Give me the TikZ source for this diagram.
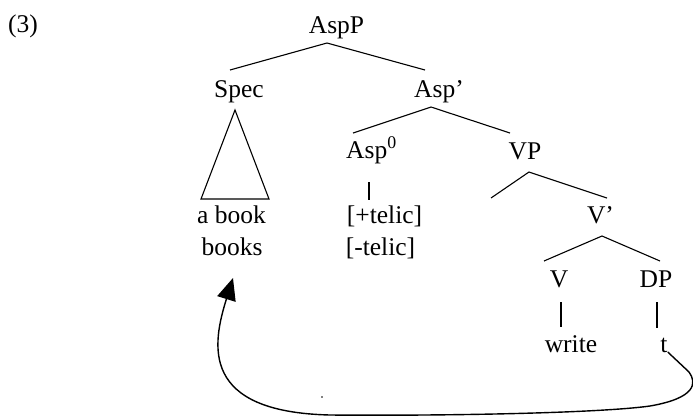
\documentclass[tikz,border=0pt]{standalone}
\usepackage{fontspec}
\setmainfont{Liberation Serif}
\usetikzlibrary{arrows.meta}
\begin{document}
\begin{tikzpicture}[x=1pt,y=-1pt,
  lbl/.style={inner sep=0pt,anchor=base,font=\fontsize{25.5}{30}\selectfont},
  branch/.style={line width=1.1pt},
  move/.style={line width=1.4pt,-{Triangle[length=22pt,width=19pt]}}]
\useasboundingbox (0,0) rectangle (693,416);
% labels
\node[lbl] (ex) at (23,32) {(3)};
\node[lbl] (AspP) at (336.5,33) {AspP};
\node[lbl] (Spec) at (239,97) {Spec};
\node[lbl] (Aspbar) at (439,97) {Asp’};
\node[lbl] (Asp0) at (371.5,158) {Asp\textsuperscript{0}};
\node[lbl] (VP) at (525,159) {VP};
\node[lbl] (Vbar) at (600.5,223) {V’};
\node[lbl] (V) at (559,287) {V};
\node[lbl] (DP) at (656,287) {DP};
\node[lbl] (write) at (571,352) {write};
\node[lbl] (t) at (664,352) {t};
\node[lbl] (abook) at (231.5,223) {a book};
\node[lbl] (books) at (232,255) {books};
\node[lbl] (ptelic) at (384.5,223) {[+telic]};
\node[lbl] (mtelic) at (380.5,255) {[-telic]};
% branch points
\coordinate (a1) at (327,43);
\coordinate (a1l) at (230,70);
\coordinate (a1r) at (425,70);
\coordinate (a2) at (431,107);
\coordinate (a2l) at (353,133);
\coordinate (a2r) at (510,133);
\coordinate (a3) at (529,172);
\coordinate (a3l) at (491,198);
\coordinate (a3r) at (607,198);
\coordinate (a4) at (602,236);
\coordinate (a4l) at (544,261);
\coordinate (a4r) at (660,261);
\draw[branch] (a1l) -- (a1) -- (a1r);
\draw[branch] (a2l) -- (a2) -- (a2r);
\draw[branch] (a3l) -- (a3) -- (a3r);
\draw[branch] (a4l) -- (a4) -- (a4r);
% unary lines
\draw[branch] (369,182) -- (369,200);
\draw[branch] (561,302) -- (561,327);
\draw[branch] (657,302) -- (657,328);
% triangle
\draw[branch,line join=miter] (235,110) -- (201,199) -- (269,199) -- cycle;
% movement arrow
\coordinate (tip) at (233,278);
\draw[move] (t.base east) -- (689,372) .. controls (697,383) and (696,398) .. (650,406)
  .. controls (600,413) and (450,416) .. (330,415)
  .. controls (200,412) and (212,345) .. (tip);
\fill (322,397) circle (0.9);
\end{tikzpicture}
\end{document}
